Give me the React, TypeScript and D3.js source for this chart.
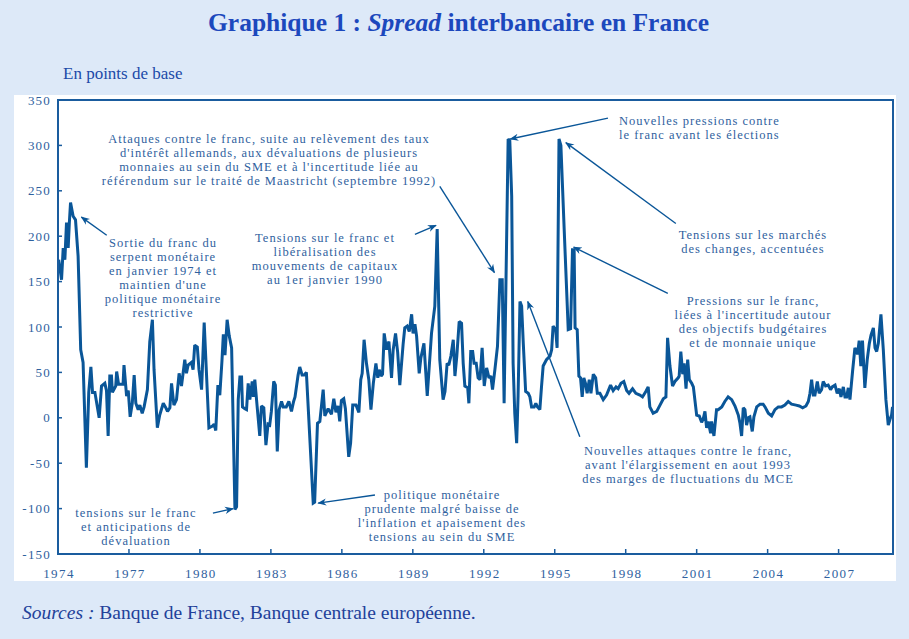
import React from "react";
import * as d3 from "d3";

const periods = [
  1974.03, 1974.15, 1974.22, 1974.29, 1974.36, 1974.43, 1974.48, 1974.53, 1974.64, 1974.74, 1974.85, 1974.96,
  1975.06, 1975.2, 1975.3, 1975.39, 1975.46, 1975.56, 1975.74, 1975.84, 1975.98,
  1976.05, 1976.12, 1976.19, 1976.26, 1976.3, 1976.44, 1976.48, 1976.56, 1976.75, 1976.79, 1976.9, 1976.97,
  1977.05, 1977.14, 1977.22, 1977.29, 1977.39, 1977.46, 1977.56, 1977.64, 1977.78, 1977.88, 1977.99,
  1978.06, 1978.2, 1978.3, 1978.45, 1978.56, 1978.63, 1978.73, 1978.8, 1978.9,
  1979.01, 1979.12, 1979.22, 1979.36, 1979.43, 1979.5, 1979.64, 1979.71, 1979.78, 1979.89, 1979.96,
  1980.07, 1980.18, 1980.38, 1980.53, 1980.6, 1980.67, 1980.76, 1980.84, 1980.93, 1980.99,
  1981.06, 1981.15, 1981.24, 1981.34, 1981.48, 1981.55, 1981.62, 1981.69, 1981.76, 1981.8, 1981.9, 1981.97,
  1982.04, 1982.11, 1982.21, 1982.26, 1982.32, 1982.42, 1982.53, 1982.6, 1982.7, 1982.79, 1982.88, 1982.95,
  1983.02, 1983.12, 1983.19, 1983.27, 1983.35, 1983.45, 1983.52, 1983.65, 1983.76, 1983.87, 1983.96,
  1984.02, 1984.15, 1984.22, 1984.32, 1984.4, 1984.5, 1984.79, 1984.85, 1984.97,
  1985.07, 1985.21, 1985.28, 1985.42, 1985.56, 1985.66, 1985.75, 1985.84, 1985.91, 1985.98,
  1986.08, 1986.15, 1986.29, 1986.37, 1986.46, 1986.6, 1986.72, 1986.8, 1986.86, 1986.94,
  1987.04, 1987.14, 1987.23, 1987.33, 1987.44, 1987.52, 1987.58, 1987.66, 1987.72, 1987.79, 1987.89, 1987.99,
  1988.1, 1988.17, 1988.27, 1988.36, 1988.45, 1988.59, 1988.66, 1988.76, 1988.85, 1988.95,
  1989.01, 1989.09, 1989.16, 1989.27, 1989.34, 1989.47, 1989.61, 1989.79, 1989.93,
  1990.03, 1990.14, 1990.28, 1990.36, 1990.45, 1990.52, 1990.61, 1990.71, 1990.78, 1990.86, 1990.96,
  1991.06, 1991.13, 1991.2, 1991.32, 1991.37, 1991.45, 1991.53, 1991.59, 1991.68, 1991.76, 1991.84, 1991.93,
  1992.02, 1992.12, 1992.22, 1992.3, 1992.37, 1992.47, 1992.58, 1992.68, 1992.78, 1992.86,
  1993.03, 1993.1, 1993.18, 1993.24, 1993.31, 1993.39, 1993.45, 1993.53, 1993.6, 1993.67, 1993.77, 1993.88, 1993.95,
  1994.02, 1994.13, 1994.2, 1994.27, 1994.37, 1994.44, 1994.51, 1994.65, 1994.8, 1994.87, 1994.93,
  1995.04, 1995.1, 1995.18, 1995.26, 1995.4, 1995.57, 1995.67, 1995.75, 1995.82, 1995.86, 1995.95,
  1996.02, 1996.09, 1996.16, 1996.23, 1996.3, 1996.37, 1996.46, 1996.53, 1996.63, 1996.73, 1996.8, 1996.91,
  1997.05, 1997.19, 1997.36, 1997.47, 1997.59, 1997.68, 1997.8, 1997.92,
  1998.04, 1998.14, 1998.29, 1998.43, 1998.6, 1998.71, 1998.85, 1998.95,
  1999.02, 1999.16, 1999.31, 1999.45, 1999.59, 1999.7, 1999.77, 1999.87, 1999.98,
  2000.08, 2000.22, 2000.26, 2000.33, 2000.41, 2000.47, 2000.55, 2000.62, 2000.69, 2000.79, 2000.86,
  2001.0, 2001.11, 2001.21, 2001.28, 2001.35, 2001.42, 2001.49, 2001.59, 2001.63, 2001.73, 2001.84, 2001.91,
  2002.06, 2002.19, 2002.33, 2002.48, 2002.62, 2002.76, 2002.83, 2002.9, 2002.97,
  2003.04, 2003.11, 2003.18, 2003.25, 2003.35, 2003.42, 2003.54, 2003.68, 2003.81, 2003.89,
  2004.03, 2004.17, 2004.31, 2004.45, 2004.59, 2004.73, 2004.87,
  2005.01, 2005.2, 2005.34, 2005.48, 2005.62, 2005.72, 2005.79, 2005.86, 2005.93,
  2006.0, 2006.1, 2006.18, 2006.28, 2006.35, 2006.45, 2006.56, 2006.66, 2006.73, 2006.85, 2006.94,
  2007.03, 2007.1, 2007.2, 2007.27, 2007.34, 2007.41, 2007.48, 2007.59, 2007.69, 2007.8, 2007.87, 2007.94,
  2008.01, 2008.11, 2008.21, 2008.3, 2008.37, 2008.47, 2008.54, 2008.61, 2008.68, 2008.79, 2008.89,
  2009.0, 2009.1, 2009.18, 2009.24, 2009.28,
];

// spread in basis points, same order as periods
const spread = [
  174, 152, 187, 174, 215, 187, 215, 237, 222, 218, 178, 75,
  61, -55, 28, 56, 28, 28, 0, 35, 38,
  30, -20, 46, 46, 28, 35, 51, 37, 37, 58, 24, 30,
  1, 16, 47, 16, 9, 14, 5, 12, 31, 84, 108,
  53, -11, 3, 16, 11, 7, 11, 38, 14,
  20, 49, 35, 64, 49, 58, 61, 53, 80, 78, 53,
  31, 105, -11, -9, -7, -14, 36, 25, 62, 92,
  69, 108, 90, 77, -101, -98, 20, 45, 45, 12, 10, 9,
  38, 20, 40, 23, 42, 12, -20, 13, 11, -30, -7, -8,
  7, 40, 36, -37, 9, 18, 12, 12, 18, 7, 18,
  23, 47, 56, 47, 47, 50, -94, -93, -6,
  -4, 31, 2, 10, 4, 21, 6, 13, -4, 19,
  21, 10, -43, -28, 14, 14, 6, 42, 49, 86,
  60, 42, 9, 38, 60, 44, 53, 46, 48, 93, 75, 84,
  44, 75, 93, 72, 36, 81, 99, 101, 95, 114,
  93, 103, 90, 49, 66, 82, 24, 93, 123,
  208, 64, 20, 29, 60, 58, 68, 86, 46, 68, 106,
  104, 60, 35, 33, 16, 73, 73, 60, 60, 44, 42, 77,
  35, 55, 44, 46, 31, 53, 79, 152, 152, 16,
  307, 305, 244, 60, 5, -28, 24, 128, 123, 82, 29, 27, 23,
  12, 12, 16, 12, 9, 34, 57, 64, 68, 75, 101,
  97, 77, 307, 300, 207, 97, 98, 185, 185, 99, 97,
  46, 44, 23, 44, 38, 27, 42, 27, 48, 44, 27, 27,
  20, 25, 36, 30, 34, 32, 38, 40,
  30, 27, 32, 27, 25, 23, 29, 34,
  12, 5, 7, 14, 21, 23, 88, 57, 35,
  40, 44, 46, 73, 48, 60, 32, 64, 42, 38, 34,
  3, 2, -5, -1, 7, -11, -4, -17, -4, -20, 9, 9,
  12, 18, 23, 20, 13, 3, -6, -20, 11,
  9, -8, 0, 1, -15, 1, 12, 15, 15, 12,
  5, 2, 9, 12, 12, 14, 18,
  15, 14, 13, 11, 13, 18, 27, 42, 25,
  25, 40, 27, 31, 40, 35, 36, 31, 34, 36, 27,
  32, 23, 34, 23, 23, 33, 20, 51, 77, 70, 85, 57,
  85, 33, 64, 82, 91, 99, 77, 73, 82, 114, 75,
  20, -8, -1, 3, 12,
];

const yTicks = [-150, -100, -50, 0, 50, 100, 150, 200, 250, 300, 350];
const xTicks = [1974, 1977, 1980, 1983, 1986, 1989, 1992, 1995, 1998, 2001, 2004, 2007];

// annotation text (pixel layout) and arrows (data coords: from -> to)
const notes = [
  {
    lines: [
      "Attaques contre le franc, suite au relèvement des taux",
      "d'intérêt allemands, aux dévaluations de plusieurs",
      "monnaies au sein du SME et à l'incertitude liée au",
      "référendum sur le traité de Maastricht (septembre 1992)",
    ],
    x: 269, y: 143, anchor: "middle", from: [1990.14, 255], to: [1992.45, 160],
  },
  {
    lines: ["Tensions sur le franc et", "libéralisation des", "mouvements de capitaux", "au 1er janvier 1990"],
    x: 325, y: 242, anchor: "middle", from: [1989.09, 202], to: [1989.98, 212],
  },
  {
    lines: ["Nouvelles pressions contre", "le franc avant les élections"],
    x: 619, y: 125, anchor: "start", from: [1997.25, 330], to: [1993.12, 307],
  },
  {
    lines: ["Tensions sur les marchés", "des changes, accentuées"],
    x: 753, y: 239, anchor: "middle", from: [2000.12, 214], to: [1995.47, 303],
  },
  {
    lines: ["Pressions sur le franc,", "liées à l'incertitude autour", "des objectifs budgétaires", "et de monnaie unique"],
    x: 753, y: 305, anchor: "middle", from: [1999.78, 137], to: [1995.8, 188],
  },
  {
    lines: ["Nouvelles attaques contre le franc,", "avant l'élargissement en aout 1993", "des marges de fluctuations du MCE"],
    x: 688, y: 455, anchor: "middle", from: [1996.06, -21], to: [1993.86, 128],
  },
  {
    lines: ["Sortie du franc du", "serpent monétaire", "en janvier 1974 et", "maintien d'une", "politique monétaire", "restrictive"],
    x: 163, y: 247, anchor: "middle", from: [1976.06, 201], to: [1974.99, 221],
  },
  {
    lines: ["tensions sur le franc", "et anticipations de", "dévaluation"],
    x: 136, y: 517, anchor: "middle", from: [1980.55, -105], to: [1981.4, -100],
  },
  {
    lines: ["politique monétaire", "prudente malgré baisse de", "l'inflation et apaisement des", "tensions au sein du SME"],
    x: 442, y: 499, anchor: "middle", from: [1987.4, -85], to: [1985.0, -94],
  },
];

const W = 909;
const H = 639;
const plot = { left: 58, top: 100, right: 893, bottom: 554 };

const BLUE = "#0a5698";
const TEXT = "#2f619e";
const serif = "'Liberation Serif', 'DejaVu Serif', serif";

export default function App() {
  const x = d3.scaleLinear().domain([1974, 2009.3]).range([plot.left, plot.right]);
  const y = d3.scaleLinear().domain([-150, 350]).range([plot.bottom, plot.top]);

  const pts = periods.map((p, i) => [p, spread[i]] as [number, number]);
  const line = d3
    .line<[number, number]>()
    .x((d) => x(d[0]))
    .y((d) => y(d[1]));

  return (
    <svg
      width={W}
      height={H}
      style={{ position: "absolute", left: 0, top: 0, display: "block" }}
      fontFamily={serif}
    >
      <defs>
        <marker id="arr" viewBox="0 0 10 10" refX="9" refY="5" markerWidth="9" markerHeight="9" orient="auto" markerUnits="userSpaceOnUse">
          <path d="M0,1 L10,5 L0,9 L3,5 Z" fill={BLUE} />
        </marker>
      </defs>
      <rect x={0} y={0} width={W} height={H} fill="#dde9f8" />
      <rect x={14} y={95} width={882} height={486} fill="#ffffff" />

      <text x={W / 2 + 4} y={31} textAnchor="middle" fontSize={25.5} fontWeight="bold" fill="#1c48bd">
        Graphique 1 : <tspan fontStyle="italic">Spread</tspan> interbancaire en France
      </text>
      <text x={63} y={79} fontSize={17} fill="#2049a8">En points de base</text>

      {/* series */}
      <path d={line(pts) || ""} fill="none" stroke={BLUE} strokeWidth={3} strokeLinejoin="miter" strokeMiterlimit={2} />

      {/* frame */}
      <rect x={plot.left} y={plot.top} width={plot.right - plot.left} height={plot.bottom - plot.top} fill="none" stroke="#1a5c9e" strokeWidth={2} />

      {yTicks.map((t) => (
        <g key={"y" + t}>
          <line x1={plot.left} x2={plot.left + 4} y1={y(t)} y2={y(t)} stroke="#1a5c9e" strokeWidth={1.5} />
          <text x={51} y={y(t) + 4.5} textAnchor="end" fontSize={13} letterSpacing={1.2} fill={TEXT}>{t}</text>
        </g>
      ))}
      {xTicks.map((t) => (
        <g key={"x" + t}>
          <line x1={x(t)} x2={x(t)} y1={plot.bottom} y2={plot.bottom - 5} stroke="#1a5c9e" strokeWidth={1.5} />
          <text x={x(t) + 1} y={578} textAnchor="middle" fontSize={13} letterSpacing={1.4} fill={TEXT}>{t}</text>
        </g>
      ))}

      {/* annotations */}
      {notes.map((n, i) => (
        <g key={"n" + i}>
          <line
            x1={x(n.from[0])} y1={y(n.from[1])} x2={x(n.to[0])} y2={y(n.to[1])}
            stroke={BLUE} strokeWidth={1.4} markerEnd="url(#arr)"
          />
          <text textAnchor={n.anchor} fontSize={12.5} letterSpacing={1} fill={TEXT}>
            {n.lines.map((l, j) => (
              <tspan key={j} x={n.x} y={n.y + j * 14}>{l}</tspan>
            ))}
          </text>
        </g>
      ))}

      <text x={22} y={619} fontSize={19.5} fill="#22419a">
        <tspan fontStyle="italic">Sources :</tspan> Banque de France, Banque centrale européenne.
      </text>
    </svg>
  );
}
